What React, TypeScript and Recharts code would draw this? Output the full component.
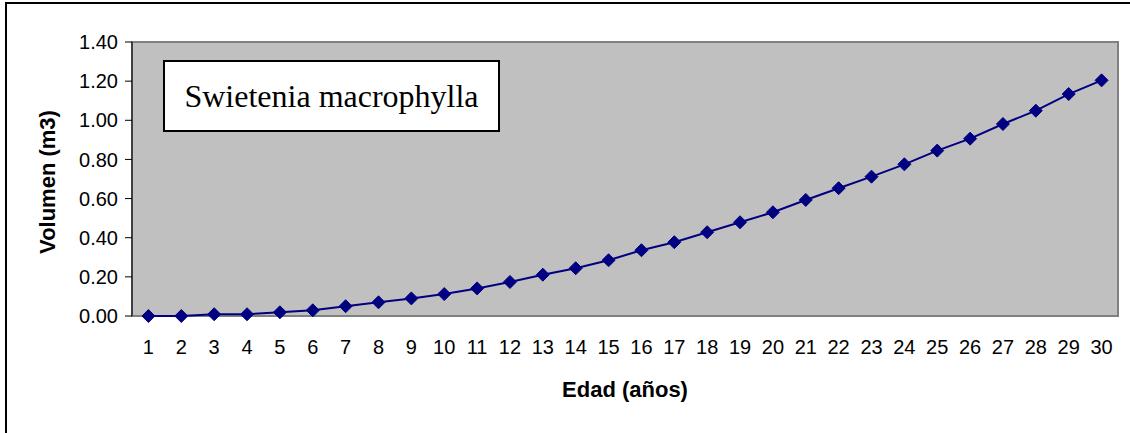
import { LineChart, Line, XAxis, YAxis, CartesianGrid, ReferenceArea } from 'recharts';

// Edad (años) 1..30 and the volume read for each year
const edades = [
  1, 2, 3, 4, 5, 6, 7, 8, 9, 10, 11, 12, 13, 14, 15, 16, 17, 18, 19, 20, 21, 22, 23, 24, 25, 26,
  27, 28, 29, 30,
];
const volumen = [
  0, 0, 0.009, 0.009, 0.019, 0.029, 0.05, 0.07, 0.09, 0.112, 0.141, 0.174, 0.211, 0.244, 0.285,
  0.336, 0.377, 0.428, 0.479, 0.53, 0.593, 0.653, 0.712, 0.775, 0.845, 0.906, 0.981, 1.049, 1.134,
  1.204,
];
const yTicks = [0, 0.2, 0.4, 0.6, 0.8, 1.0, 1.2, 1.4];
// tick marks sit between categories, like a spreadsheet category axis
const boundaryTicks = [0.5, ...edades.map((e) => e + 0.5)];

const data = edades.map((edad, i) => ({ edad, volumen: volumen[i] }));

const FONT = '"Liberation Sans", Arial, sans-serif';

function Diamond(props: any) {
  const { cx, cy } = props;
  if (cx == null || cy == null) return null;
  const r = 6.5;
  return (
    <polygon
      points={`${cx},${cy - r} ${cx + r},${cy} ${cx},${cy + r} ${cx - r},${cy}`}
      fill="#000080"
      stroke="#000080"
      strokeWidth={1}
    />
  );
}

function YTitle(props: any) {
  const { viewBox } = props;
  const cx = viewBox.x + 47;
  const cy = viewBox.y + viewBox.height / 2 + 3;
  return (
    <text
      x={cx}
      y={cy}
      transform={`rotate(-90, ${cx}, ${cy})`}
      textAnchor="middle"
      dominantBaseline="central"
      fontFamily={FONT}
      fontSize={22}
      fontWeight="bold"
      fill="#000"
    >
      Volumen (m3)
    </text>
  );
}

export default function App() {
  return (
    <div
      style={{
        position: 'absolute',
        left: 0,
        top: 0,
        width: 1130,
        height: 433,
        overflow: 'hidden',
        background: '#fff',
      }}
    >
      <div
        style={{
          position: 'absolute',
          left: 5,
          top: 2,
          width: 1200,
          height: 500,
          border: '2px solid #000',
        }}
      />
      <LineChart
        width={1130}
        height={433}
        data={data}
        margin={{ top: 42, right: 12, left: 0, bottom: 0 }}
      >
        <CartesianGrid horizontal={false} vertical={false} fill="#c0c0c0" fillOpacity={1} />
        <ReferenceArea
          y1={0}
          y2={1.4}
          fill="none"
          stroke="#808080"
          strokeWidth={2}
          xAxisId="marks"
          ifOverflow="visible"
        />
        <XAxis
          xAxisId="marks"
          type="number"
          dataKey="edad"
          domain={[0.5, 30.5]}
          ticks={boundaryTicks}
          tick={false}
          tickSize={6}
          height={0}
          axisLine={{ stroke: '#000', strokeWidth: 1.5 }}
          tickLine={{ stroke: '#000' }}
        />
        <XAxis
          xAxisId="labels"
          type="number"
          dataKey="edad"
          domain={[0.5, 30.5]}
          ticks={edades}
          interval={0}
          height={117}
          axisLine={false}
          tickLine={false}
          tickSize={0}
          tickMargin={24}
          tick={{ fontFamily: FONT, fontSize: 20, fill: '#000' }}
          label={{
            value: 'Edad (años)',
            position: 'insideBottom',
            offset: 36,
            fontFamily: FONT,
            fontSize: 22,
            fontWeight: 'bold',
            fill: '#000',
          }}
        />
        <YAxis
          width={132}
          domain={[0, 1.4]}
          ticks={yTicks}
          interval={0}
          tickFormatter={(v: number) => v.toFixed(2)}
          tickSize={7}
          tickMargin={7}
          axisLine={{ stroke: '#000' }}
          tickLine={{ stroke: '#000' }}
          tick={{ fontFamily: FONT, fontSize: 20, fill: '#000' }}
          label={<YTitle />}
        />
        <Line
          xAxisId="labels"
          type="linear"
          dataKey="volumen"
          stroke="#000080"
          strokeWidth={2}
          dot={<Diamond />}
          activeDot={false}
          isAnimationActive={false}
        />
      </LineChart>
      <div
        style={{
          position: 'absolute',
          left: 163,
          top: 60,
          width: 333,
          height: 68,
          border: '2px solid #000',
          background: '#fff',
          display: 'flex',
          alignItems: 'center',
          justifyContent: 'center',
          fontFamily: '"Liberation Serif", "Times New Roman", serif',
          fontSize: 32,
          color: '#000',
        }}
      >
        Swietenia macrophylla
      </div>
    </div>
  );
}
